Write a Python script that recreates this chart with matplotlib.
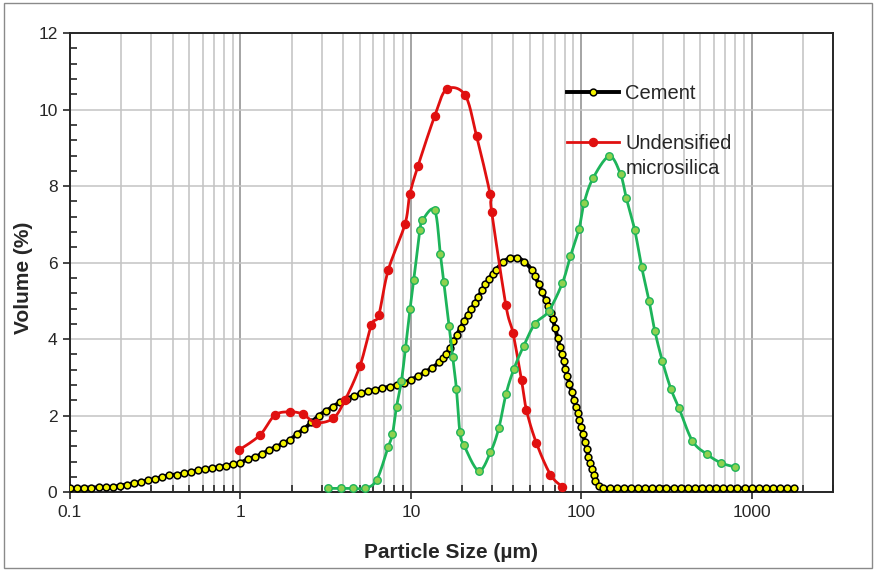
import numpy as np
import matplotlib.pyplot as plt
from matplotlib.lines import Line2D
from matplotlib.patches import Rectangle
from matplotlib.ticker import LogLocator, MultipleLocator, NullFormatter

plt.rcParams['font.family'] = ['Liberation Sans', 'DejaVu Sans']

# Cement: particle size (um) and volume (%)
cement_size = [
    0.100, 0.110, 0.121, 0.133, 0.147, 0.162, 0.178, 0.196, 0.215, 0.237,
    0.261, 0.287, 0.316, 0.348, 0.383, 0.422, 0.464, 0.511, 0.562, 0.619,
    0.681, 0.750, 0.825, 0.909, 1.000, 1.101, 1.212, 1.334, 1.468, 1.616,
    1.778, 1.957, 2.154, 2.371, 2.610, 2.873, 3.162, 3.481, 3.831, 4.217,
    4.642, 5.109, 5.623, 6.190, 6.813, 7.499, 8.254, 9.085, 10.00, 11.01,
    12.12, 13.34, 14.68, 15.40, 16.16, 16.95, 17.78, 18.65, 19.57, 20.53,
    21.54, 22.60, 23.71, 24.87, 26.10, 27.38, 28.73, 30.14, 31.62, 34.81,
    38.31, 42.17, 46.42, 51.09, 53.60, 56.23, 58.99, 61.90, 63.91, 65.99,
    68.13, 70.34, 72.63, 74.99, 76.81, 78.67, 80.58, 82.54, 85.22, 88.00,
    90.85, 93.06, 95.31, 97.63, 100.0, 102.4, 104.9, 107.5, 110.1, 112.8,
    115.5, 118.3, 121.2, 127.2, 133.4, 146.8, 161.6, 177.8, 195.7, 215.4,
    237.1, 261.0, 287.3, 316.2, 348.1, 383.1, 421.7, 464.2, 510.9, 562.3,
    619.0, 681.3, 749.9, 825.4, 908.5, 1000, 1101, 1212, 1334, 1468,
    1616, 1778,
]
cement_vol = [
    0.10, 0.11, 0.12, 0.12, 0.13, 0.13, 0.14, 0.17, 0.20, 0.24,
    0.27, 0.31, 0.35, 0.40, 0.44, 0.46, 0.49, 0.53, 0.57, 0.60,
    0.63, 0.66, 0.69, 0.73, 0.77, 0.86, 0.92, 1.00, 1.10, 1.18,
    1.28, 1.37, 1.53, 1.66, 1.83, 2.00, 2.12, 2.24, 2.35, 2.44,
    2.52, 2.58, 2.64, 2.68, 2.72, 2.76, 2.80, 2.86, 2.94, 3.03,
    3.14, 3.25, 3.40, 3.50, 3.62, 3.77, 3.94, 4.12, 4.30, 4.47,
    4.63, 4.79, 4.94, 5.11, 5.28, 5.43, 5.58, 5.71, 5.82, 6.02,
    6.12, 6.13, 6.02, 5.82, 5.64, 5.44, 5.24, 5.02, 4.86, 4.69,
    4.52, 4.28, 4.04, 3.80, 3.61, 3.42, 3.23, 3.05, 2.84, 2.63,
    2.42, 2.24, 2.06, 1.88, 1.71, 1.51, 1.31, 1.12, 0.93, 0.76,
    0.60, 0.44, 0.30, 0.16, 0.11, 0.10, 0.10, 0.10, 0.10, 0.10,
    0.10, 0.10, 0.10, 0.10, 0.10, 0.10, 0.10, 0.10, 0.10, 0.10,
    0.10, 0.10, 0.10, 0.10, 0.10, 0.10, 0.10, 0.10, 0.10, 0.10,
    0.10, 0.10,
]

# Undensified microsilica
silica_size = [0.98, 1.30, 1.59, 1.95, 2.32, 2.77, 3.50, 4.10, 5.02, 5.87,
               6.48, 7.36, 9.23, 9.87, 11.0, 13.8, 16.2, 20.8, 24.3, 29.2,
               29.8, 36.1, 39.8, 44.6, 47.7, 54.5, 65.9, 77.5]
silica_vol = [1.10, 1.49, 2.01, 2.10, 2.04, 1.82, 1.93, 2.40, 3.29, 4.37,
              4.63, 5.80, 7.00, 7.79, 8.52, 9.83, 10.53, 10.38, 9.31, 7.79,
              7.33, 4.89, 4.15, 2.93, 2.14, 1.29, 0.46, 0.14]

# Third sample (green)
sample3_size = [3.27, 3.87, 4.55, 5.37, 6.30, 7.36, 7.80, 8.24, 8.80, 9.30,
                9.90, 10.4, 11.3, 11.7, 13.8, 14.9, 15.6, 16.8, 17.6, 18.5,
                19.4, 20.5, 25.0, 29.3, 32.8, 36.2, 40.3, 46.0, 53.4, 64.3,
                77.5, 86.4, 97.1, 104, 117, 146, 170, 184, 206, 226,
                250, 270, 299, 335, 375, 449, 547, 658, 794]
sample3_vol = [0.10, 0.10, 0.10, 0.10, 0.32, 1.18, 1.52, 2.23, 2.90, 3.76,
               4.80, 5.54, 6.85, 7.11, 7.37, 6.22, 5.50, 4.34, 3.54, 2.71,
               1.57, 1.23, 0.56, 1.04, 1.67, 2.57, 3.23, 3.83, 4.40, 4.73,
               5.47, 6.17, 6.89, 7.57, 8.20, 8.78, 8.31, 7.68, 6.85, 5.89,
               5.00, 4.22, 3.43, 2.71, 2.19, 1.34, 0.99, 0.77, 0.66]

x_ticks = [0.1, 1, 10, 100, 1000]
x_ticklabels = ['0.1', '1', '10', '100', '1000']
y_ticks = [0, 2, 4, 6, 8, 10, 12]

GREEN = '#1db45a'
GREEN_FILL = '#8fd14f'
RED = '#e01010'
YELLOW = '#f2f200'


def smooth(x, y, n=16):
    """Bezier smoothing through every point, done in log-x display units."""
    u = np.log10(x) * 170.5
    v = np.asarray(y, dtype=float) * 38.25
    pts = np.column_stack([u, v])
    p = np.vstack([pts[0], pts, pts[-1]])
    t = np.linspace(0, 1, n)[1:, None]
    out = [pts[0]]
    for i in range(1, len(p) - 2):
        p0, p1, p2, p3 = p[i - 1], p[i], p[i + 1], p[i + 2]
        c1 = p1 + (p2 - p0) / 6
        c2 = p2 - (p3 - p1) / 6
        seg = ((1 - t) ** 3) * p1 + 3 * ((1 - t) ** 2) * t * c1 \
            + 3 * (1 - t) * t ** 2 * c2 + t ** 3 * p2
        out.extend(seg)
    out = np.array(out)
    return 10 ** (out[:, 0] / 170.5), out[:, 1] / 38.25


fig = plt.figure(figsize=(8.75, 5.71), dpi=100)
ax = fig.add_axes([0.080, 0.138, 0.872, 0.804])

# cement
sx, sy = smooth(cement_size, cement_vol)
ax.plot(sx, sy, color='black', lw=2.8, zorder=3)
ax.plot(cement_size, cement_vol, ls='none', marker='o', ms=4.9,
        mfc=YELLOW, mec='black', mew=1.1, zorder=4)

# undensified microsilica
sx, sy = smooth(silica_size, silica_vol)
ax.plot(sx, sy, color=RED, lw=2.0, zorder=5)
ax.plot(silica_size, silica_vol, ls='none', marker='o', ms=5.8,
        mfc=RED, mec=RED, zorder=6)

# third sample
sx, sy = smooth(sample3_size, sample3_vol)
ax.plot(sx, sy, color=GREEN, lw=2.0, zorder=7)
ax.plot(sample3_size, sample3_vol, ls='none', marker='o', ms=5.4,
        mfc=GREEN_FILL, mec=GREEN, mew=1.0, zorder=8)

ax.set_xscale('log')
ax.set_xlim(0.1, 3000)
ax.set_ylim(0, 12)
ax.set_xticks(x_ticks)
ax.set_xticklabels(x_ticklabels)
ax.xaxis.set_minor_locator(LogLocator(base=10, subs=np.arange(2, 10)))
ax.xaxis.set_minor_formatter(NullFormatter())
ax.set_yticks(y_ticks)
ax.yaxis.set_minor_locator(MultipleLocator(0.4))

ax.xaxis.grid(True, which='major', color='#8c8c8c', lw=1.1, zorder=0)
ax.xaxis.grid(True, which='minor', color='#cacaca', lw=1.3, zorder=0)
ax.yaxis.grid(True, which='major', color='#c4c4c4', lw=1.1, zorder=0)
ax.set_axisbelow(True)

ax.tick_params(which='major', direction='out', length=5, width=1.2,
               labelsize=12.5, colors='#262626', pad=4)
ax.tick_params(which='minor', direction='in', length=5, width=1.2,
               colors='#262626')
for s in ax.spines.values():
    s.set_linewidth(1.4)
    s.set_color('#262626')

ax.set_xlabel('Particle Size (\u00b5m)', fontsize=15, fontweight='bold',
              labelpad=17, color='#262626')
ax.set_ylabel('Volume (%)', fontsize=15, fontweight='bold', color='#262626')
ax.yaxis.set_label_coords(-0.049, 0.468)

handles = [
    Line2D([], [], color='black', lw=2.8, marker='o', ms=4.9,
           mfc=YELLOW, mec='black', mew=1.1),
    Line2D([], [], color=RED, lw=2.0, marker='o', ms=5.8,
           mfc=RED, mec=RED),
]
ax.legend(handles, ['Cement', 'Undensified'],
          loc='upper left', bbox_to_anchor=(0.651, 0.889), frameon=False,
          fontsize=14.5, handlelength=2.6, handletextpad=0.3,
          labelspacing=1.55, borderaxespad=0, borderpad=0,
          labelcolor='#262626')
fig.text(626 / 875, 1 - 168 / 571, 'microsilica', fontsize=14.5,
         va='center', ha='left', color='#262626')

fig.add_artist(Rectangle((0.004, 0.005), 0.992, 0.99,
                         transform=fig.transFigure, fill=False,
                         edgecolor='#8a8a8a', lw=1.0))

fig.savefig('out.png', dpi=100)
